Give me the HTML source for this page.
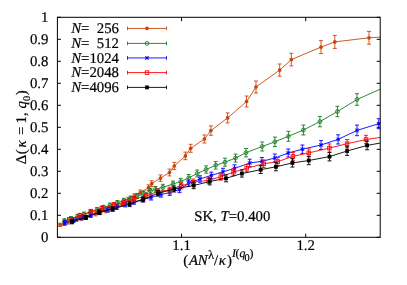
<!DOCTYPE html><html><head><meta charset="utf-8"><style>
html,body{margin:0;padding:0;background:#fff}
body{width:407px;height:285px;position:relative;overflow:hidden;font-family:"Liberation Serif",serif;font-size:14.8px;color:#000}
.t{position:absolute;white-space:pre;line-height:1;text-rendering:geometricPrecision;-webkit-text-stroke:0.2px #000}
.yt{right:358.6px;text-align:right}
i{font-style:italic}

</style></head><body>
<svg width="407" height="285" viewBox="0 0 407 285" style="position:absolute;left:0;top:0">
<defs><clipPath id="cp"><rect x="56.9" y="16.8" width="323.8" height="221"/></clipPath></defs>
<path d="M57.4 237.30h3.5M380.2 237.30h-3.5M57.4 215.30h3.5M380.2 215.30h-3.5M57.4 193.30h3.5M380.2 193.30h-3.5M57.4 171.30h3.5M380.2 171.30h-3.5M57.4 149.30h3.5M380.2 149.30h-3.5M57.4 127.30h3.5M380.2 127.30h-3.5M57.4 105.30h3.5M380.2 105.30h-3.5M57.4 83.30h3.5M380.2 83.30h-3.5M57.4 61.30h3.5M380.2 61.30h-3.5M57.4 39.30h3.5M380.2 39.30h-3.5M57.4 17.30h3.5M380.2 17.30h-3.5M181.55 237.3v-3.6M181.55 17.3v3.9M305.71 237.3v-3.6M305.71 17.3v3.9" stroke="#000" stroke-width="1" fill="none"/>
<g clip-path="url(#cp)">
<path d="M60.10 223.20L60.10 226.40M58.10 223.20L62.10 223.20M58.10 226.40L62.10 226.40M64.00 221.94L64.00 225.24M62.00 221.94L66.00 221.94M62.00 225.24L66.00 225.24M68.00 220.65L68.00 224.05M66.00 220.65L70.00 220.65M66.00 224.05L70.00 224.05M72.20 219.30L72.20 222.80M70.20 219.30L74.20 219.30M70.20 222.80L74.20 222.80M76.50 217.92L76.50 221.52M74.50 217.92L78.50 217.92M74.50 221.52L78.50 221.52M81.00 216.47L81.00 220.17M79.00 216.47L83.00 216.47M79.00 220.17L83.00 220.17M85.60 215.00L85.60 218.80M83.60 215.00L87.60 215.00M83.60 218.80L87.60 218.80M90.40 213.46L90.40 217.36M88.40 213.46L92.40 213.46M88.40 217.36L92.40 217.36M95.40 211.86L95.40 215.86M93.40 211.86L97.40 211.86M93.40 215.86L97.40 215.86M100.50 210.23L100.50 214.33M98.50 210.23L102.50 210.23M98.50 214.33L102.50 214.33M105.80 208.53L105.80 212.73M103.80 208.53L107.80 208.53M103.80 212.73L107.80 212.73M111.20 206.81L111.20 211.11M109.20 206.81L113.20 206.81M109.20 211.11L113.20 211.11M116.80 204.30L116.80 208.70M114.80 204.30L118.80 204.30M114.80 208.70L118.80 208.70M122.50 201.25L122.50 205.75M120.50 201.25L124.50 201.25M120.50 205.75L124.50 205.75M128.30 197.40L128.30 202.00M126.30 197.40L130.30 197.40M126.30 202.00L130.30 202.00M134.30 193.85L134.30 198.55M132.30 193.85L136.30 193.85M132.30 198.55L136.30 198.55M140.30 190.00L140.30 195.00M138.30 190.00L142.30 190.00M138.30 195.00L142.30 195.00M148.50 184.90L148.50 190.50M146.50 184.90L150.50 184.90M146.50 190.50L150.50 190.50M151.70 180.70L151.70 186.70M149.70 180.70L153.70 180.70M149.70 186.70L153.70 186.70M160.50 174.90L160.50 181.30M158.50 174.90L162.50 174.90M158.50 181.30L162.50 181.30M169.50 169.10L169.50 175.90M167.50 169.10L171.50 169.10M167.50 175.90L171.50 175.90M174.30 162.40L174.30 169.60M172.30 162.40L176.30 162.40M172.30 169.60L176.30 169.60M185.40 152.10L185.40 159.70M183.40 152.10L187.40 152.10M183.40 159.70L187.40 159.70M190.70 144.30L190.70 152.30M188.70 144.30L192.70 144.30M188.70 152.30L192.70 152.30M204.40 135.00L204.40 143.00M202.40 135.00L206.40 135.00M202.40 143.00L206.40 143.00M210.90 125.90L210.90 135.30M208.90 125.90L212.90 125.90M208.90 135.30L212.90 135.30M227.60 112.90L227.60 122.90M225.60 112.90L229.60 112.90M225.60 122.90L229.60 122.90M246.60 96.00L246.60 107.00M244.60 96.00L248.60 96.00M244.60 107.00L248.60 107.00M256.00 81.00L256.00 93.00M254.00 81.00L258.00 81.00M254.00 93.00L258.00 93.00M279.70 64.00L279.70 76.20M277.70 64.00L281.70 64.00M277.70 76.20L281.70 76.20M291.30 53.30L291.30 65.90M289.30 53.30L293.30 53.30M289.30 65.90L293.30 65.90M321.00 40.60L321.00 53.60M319.00 40.60L323.00 40.60M319.00 53.60L323.00 53.60M334.80 35.40L334.80 48.40M332.80 35.40L336.80 35.40M332.80 48.40L336.80 48.40M369.00 31.40L369.00 44.20M367.00 31.40L371.00 31.40M367.00 44.20L371.00 44.20" stroke="#c8460c" stroke-width="0.9" fill="none"/>
<circle cx="60.10" cy="224.80" r="1.85" fill="#c8460c"/>
<circle cx="64.00" cy="223.59" r="1.85" fill="#c8460c"/>
<circle cx="68.00" cy="222.35" r="1.85" fill="#c8460c"/>
<circle cx="72.20" cy="221.05" r="1.85" fill="#c8460c"/>
<circle cx="76.50" cy="219.72" r="1.85" fill="#c8460c"/>
<circle cx="81.00" cy="218.32" r="1.85" fill="#c8460c"/>
<circle cx="85.60" cy="216.90" r="1.85" fill="#c8460c"/>
<circle cx="90.40" cy="215.41" r="1.85" fill="#c8460c"/>
<circle cx="95.40" cy="213.86" r="1.85" fill="#c8460c"/>
<circle cx="100.50" cy="212.28" r="1.85" fill="#c8460c"/>
<circle cx="105.80" cy="210.63" r="1.85" fill="#c8460c"/>
<circle cx="111.20" cy="208.96" r="1.85" fill="#c8460c"/>
<circle cx="116.80" cy="206.50" r="1.85" fill="#c8460c"/>
<circle cx="122.50" cy="203.50" r="1.85" fill="#c8460c"/>
<circle cx="128.30" cy="199.70" r="1.85" fill="#c8460c"/>
<circle cx="134.30" cy="196.20" r="1.85" fill="#c8460c"/>
<circle cx="140.30" cy="192.50" r="1.85" fill="#c8460c"/>
<circle cx="148.50" cy="187.70" r="1.85" fill="#c8460c"/>
<circle cx="151.70" cy="183.70" r="1.85" fill="#c8460c"/>
<circle cx="160.50" cy="178.10" r="1.85" fill="#c8460c"/>
<circle cx="169.50" cy="172.50" r="1.85" fill="#c8460c"/>
<circle cx="174.30" cy="166.00" r="1.85" fill="#c8460c"/>
<circle cx="185.40" cy="155.90" r="1.85" fill="#c8460c"/>
<circle cx="190.70" cy="148.30" r="1.85" fill="#c8460c"/>
<circle cx="204.40" cy="139.00" r="1.85" fill="#c8460c"/>
<circle cx="210.90" cy="130.60" r="1.85" fill="#c8460c"/>
<circle cx="227.60" cy="117.90" r="1.85" fill="#c8460c"/>
<circle cx="246.60" cy="101.50" r="1.85" fill="#c8460c"/>
<circle cx="256.00" cy="87.00" r="1.85" fill="#c8460c"/>
<circle cx="279.70" cy="70.10" r="1.85" fill="#c8460c"/>
<circle cx="291.30" cy="59.60" r="1.85" fill="#c8460c"/>
<circle cx="321.00" cy="47.10" r="1.85" fill="#c8460c"/>
<circle cx="334.80" cy="41.90" r="1.85" fill="#c8460c"/>
<circle cx="369.00" cy="37.80" r="1.85" fill="#c8460c"/>
<path d="M60.10 224.80L64.00 223.59L68.00 222.35L72.20 221.05L76.50 219.72L81.00 218.32L85.60 216.90L90.40 215.41L95.40 213.86L100.50 212.28L105.80 210.63L111.20 208.96L116.80 206.50L122.50 203.50L128.30 199.70L134.30 196.20L140.30 192.50L148.50 187.70L151.70 183.70L160.50 178.10L169.50 172.50L174.30 166.00L185.40 155.90L190.70 148.30L204.40 139.00L210.90 130.60L227.60 117.90L246.60 101.50L256.00 87.00L279.70 70.10L291.30 59.60L321.00 47.10L334.80 41.90L369.00 37.80L380.50 37.10" stroke="#c8460c" stroke-width="0.9" fill="none"/>
<path d="M64.50 218.80L64.50 223.20M62.50 218.80L66.50 218.80M62.50 223.20L66.50 223.20M71.00 216.56L71.00 220.96M69.00 216.56L73.00 216.56M69.00 220.96L73.00 220.96M77.50 214.31L77.50 218.71M75.50 214.31L79.50 214.31M75.50 218.71L79.50 218.71M84.00 212.07L84.00 216.47M82.00 212.07L86.00 212.07M82.00 216.47L86.00 216.47M90.50 209.83L90.50 214.23M88.50 209.83L92.50 209.83M88.50 214.23L92.50 214.23M97.00 207.59L97.00 211.99M95.00 207.59L99.00 207.59M95.00 211.99L99.00 211.99M103.50 205.35L103.50 209.75M101.50 205.35L105.50 205.35M101.50 209.75L105.50 209.75M110.00 203.10L110.00 207.50M108.00 203.10L112.00 203.10M108.00 207.50L112.00 207.50M117.40 200.55L117.40 204.95M115.40 200.55L119.40 200.55M115.40 204.95L119.40 204.95M123.80 198.34L123.80 202.74M121.80 198.34L125.80 198.34M121.80 202.74L125.80 202.74M130.60 196.00L130.60 200.40M128.60 196.00L132.60 196.00M128.60 200.40L132.60 200.40M137.00 193.50L137.00 198.50M135.00 193.50L139.00 193.50M135.00 198.50L139.00 198.50M143.70 191.00L143.70 196.00M141.70 191.00L145.70 191.00M141.70 196.00L145.70 196.00M150.40 188.40L150.40 193.60M148.40 188.40L152.40 188.40M148.40 193.60L152.40 193.60M155.50 186.50L155.50 192.10M153.50 186.50L157.50 186.50M153.50 192.10L157.50 192.10M162.90 184.30L162.90 190.30M160.90 184.30L164.90 184.30M160.90 190.30L164.90 190.30M173.00 181.00L173.00 187.00M171.00 181.00L175.00 181.00M171.00 187.00L175.00 187.00M180.70 178.40L180.70 184.80M178.70 178.40L182.70 178.40M178.70 184.80L182.70 184.80M188.70 174.50L188.70 181.30M186.70 174.50L190.70 174.50M186.70 181.30L190.70 181.30M197.20 170.00L197.20 177.00M195.20 170.00L199.20 170.00M195.20 177.00L199.20 177.00M206.10 165.90L206.10 173.10M204.10 165.90L208.10 165.90M204.10 173.10L208.10 173.10M215.70 161.50L215.70 169.10M213.70 161.50L217.70 161.50M213.70 169.10L217.70 169.10M225.00 158.20L225.00 166.20M223.00 158.20L227.00 158.20M223.00 166.20L227.00 166.20M235.50 154.10L235.50 162.10M233.50 154.10L237.50 154.10M233.50 162.10L237.50 162.10M246.00 148.50L246.00 156.90M244.00 148.50L248.00 148.50M244.00 156.90L248.00 156.90M262.20 142.00L262.20 151.00M260.20 142.00L264.20 142.00M260.20 151.00L264.20 151.00M274.90 137.10L274.90 146.50M272.90 137.10L276.90 137.10M272.90 146.50L276.90 146.50M288.40 131.30L288.40 141.30M286.40 131.30L290.40 131.30M286.40 141.30L290.40 141.30M303.40 125.00L303.40 135.00M301.40 125.00L305.40 125.00M301.40 135.00L305.40 135.00M319.90 116.40L319.90 126.80M317.90 116.40L321.90 116.40M317.90 126.80L321.90 126.80M337.40 106.30L337.40 116.70M335.40 106.30L339.40 106.30M335.40 116.70L339.40 116.70M357.00 93.70L357.00 105.30M355.00 93.70L359.00 93.70M355.00 105.30L359.00 105.30" stroke="#187a26" stroke-width="0.9" fill="none"/>
<circle cx="64.50" cy="221.00" r="1.9" fill="none" stroke="#187a26" stroke-width="0.9"/>
<circle cx="71.00" cy="218.76" r="1.9" fill="none" stroke="#187a26" stroke-width="0.9"/>
<circle cx="77.50" cy="216.51" r="1.9" fill="none" stroke="#187a26" stroke-width="0.9"/>
<circle cx="84.00" cy="214.27" r="1.9" fill="none" stroke="#187a26" stroke-width="0.9"/>
<circle cx="90.50" cy="212.03" r="1.9" fill="none" stroke="#187a26" stroke-width="0.9"/>
<circle cx="97.00" cy="209.79" r="1.9" fill="none" stroke="#187a26" stroke-width="0.9"/>
<circle cx="103.50" cy="207.55" r="1.9" fill="none" stroke="#187a26" stroke-width="0.9"/>
<circle cx="110.00" cy="205.30" r="1.9" fill="none" stroke="#187a26" stroke-width="0.9"/>
<circle cx="117.40" cy="202.75" r="1.9" fill="none" stroke="#187a26" stroke-width="0.9"/>
<circle cx="123.80" cy="200.54" r="1.9" fill="none" stroke="#187a26" stroke-width="0.9"/>
<circle cx="130.60" cy="198.20" r="1.9" fill="none" stroke="#187a26" stroke-width="0.9"/>
<circle cx="137.00" cy="196.00" r="1.9" fill="none" stroke="#187a26" stroke-width="0.9"/>
<circle cx="143.70" cy="193.50" r="1.9" fill="none" stroke="#187a26" stroke-width="0.9"/>
<circle cx="150.40" cy="191.00" r="1.9" fill="none" stroke="#187a26" stroke-width="0.9"/>
<circle cx="155.50" cy="189.30" r="1.9" fill="none" stroke="#187a26" stroke-width="0.9"/>
<circle cx="162.90" cy="187.30" r="1.9" fill="none" stroke="#187a26" stroke-width="0.9"/>
<circle cx="173.00" cy="184.00" r="1.9" fill="none" stroke="#187a26" stroke-width="0.9"/>
<circle cx="180.70" cy="181.60" r="1.9" fill="none" stroke="#187a26" stroke-width="0.9"/>
<circle cx="188.70" cy="177.90" r="1.9" fill="none" stroke="#187a26" stroke-width="0.9"/>
<circle cx="197.20" cy="173.50" r="1.9" fill="none" stroke="#187a26" stroke-width="0.9"/>
<circle cx="206.10" cy="169.50" r="1.9" fill="none" stroke="#187a26" stroke-width="0.9"/>
<circle cx="215.70" cy="165.30" r="1.9" fill="none" stroke="#187a26" stroke-width="0.9"/>
<circle cx="225.00" cy="162.20" r="1.9" fill="none" stroke="#187a26" stroke-width="0.9"/>
<circle cx="235.50" cy="158.10" r="1.9" fill="none" stroke="#187a26" stroke-width="0.9"/>
<circle cx="246.00" cy="152.70" r="1.9" fill="none" stroke="#187a26" stroke-width="0.9"/>
<circle cx="262.20" cy="146.50" r="1.9" fill="none" stroke="#187a26" stroke-width="0.9"/>
<circle cx="274.90" cy="141.80" r="1.9" fill="none" stroke="#187a26" stroke-width="0.9"/>
<circle cx="288.40" cy="136.30" r="1.9" fill="none" stroke="#187a26" stroke-width="0.9"/>
<circle cx="303.40" cy="130.00" r="1.9" fill="none" stroke="#187a26" stroke-width="0.9"/>
<circle cx="319.90" cy="121.60" r="1.9" fill="none" stroke="#187a26" stroke-width="0.9"/>
<circle cx="337.40" cy="111.50" r="1.9" fill="none" stroke="#187a26" stroke-width="0.9"/>
<circle cx="357.00" cy="99.50" r="1.9" fill="none" stroke="#187a26" stroke-width="0.9"/>
<path d="M64.50 221.00L71.00 218.76L77.50 216.51L84.00 214.27L90.50 212.03L97.00 209.79L103.50 207.55L110.00 205.30L117.40 202.75L123.80 200.54L130.60 198.20L137.00 196.00L143.70 193.50L150.40 191.00L155.50 189.30L162.90 187.30L173.00 184.00L180.70 181.60L188.70 177.90L197.20 173.50L206.10 169.50L215.70 165.30L225.00 162.20L235.50 158.10L246.00 152.70L262.20 146.50L274.90 141.80L288.40 136.30L303.40 130.00L319.90 121.60L337.40 111.50L357.00 99.50L380.50 89.00" stroke="#187a26" stroke-width="0.9" fill="none"/>
<path d="M64.80 220.60L64.80 225.00M62.80 220.60L66.80 220.60M62.80 225.00L66.80 225.00M73.40 218.02L73.40 222.42M71.40 218.02L75.40 218.02M71.40 222.42L75.40 222.42M82.00 215.44L82.00 219.84M80.00 215.44L84.00 215.44M80.00 219.84L84.00 219.84M90.70 212.83L90.70 217.23M88.70 212.83L92.70 212.83M88.70 217.23L92.70 217.23M99.30 210.25L99.30 214.65M97.30 210.25L101.30 210.25M97.30 214.65L101.30 214.65M107.90 207.67L107.90 212.07M105.90 207.67L109.90 207.67M105.90 212.07L109.90 212.07M116.50 205.09L116.50 209.49M114.50 205.09L118.50 205.09M114.50 209.49L118.50 209.49M125.10 202.51L125.10 206.91M123.10 202.51L127.10 202.51M123.10 206.91L127.10 206.91M133.80 199.90L133.80 204.30M131.80 199.90L135.80 199.90M131.80 204.30L135.80 204.30M142.40 197.32L142.40 201.72M140.40 197.32L144.40 197.32M140.40 201.72L144.40 201.72M151.00 195.00L151.00 200.00M149.00 195.00L153.00 195.00M149.00 200.00L153.00 200.00M161.00 191.90L161.00 197.10M159.00 191.90L163.00 191.90M159.00 197.10L163.00 197.10M169.70 189.80L169.70 195.40M167.70 189.80L171.70 189.80M167.70 195.40L171.70 195.40M179.50 186.60L179.50 192.60M177.50 186.60L181.50 186.60M177.50 192.60L181.50 192.60M188.50 180.20L188.50 186.20M186.50 180.20L190.50 180.20M186.50 186.20L190.50 186.20M200.00 175.80L200.00 182.20M198.00 175.80L202.00 175.80M198.00 182.20L202.00 182.20M211.30 172.10L211.30 178.70M209.30 172.10L213.30 172.10M209.30 178.70L213.30 178.70M223.00 168.30L223.00 175.30M221.00 168.30L225.00 168.30M221.00 175.30L225.00 175.30M234.50 164.80L234.50 172.00M232.50 164.80L236.50 164.80M232.50 172.00L236.50 172.00M249.70 159.20L249.70 166.80M247.70 159.20L251.70 159.20M247.70 166.80L251.70 166.80M261.90 157.50L261.90 165.10M259.90 157.50L263.90 157.50M259.90 165.10L263.90 165.10M274.80 154.00L274.80 162.00M272.80 154.00L276.80 154.00M272.80 162.00L276.80 162.00M288.20 149.00L288.20 157.00M286.20 149.00L290.20 149.00M286.20 157.00L290.20 157.00M302.40 145.00L302.40 153.40M300.40 145.00L304.40 145.00M300.40 153.40L304.40 153.40M321.00 140.60L321.00 149.40M319.00 140.60L323.00 140.60M319.00 149.40L323.00 149.40M338.10 134.80L338.10 144.00M336.10 134.80L340.10 134.80M336.10 144.00L340.10 144.00M357.00 125.10L357.00 135.70M355.00 125.10L359.00 125.10M355.00 135.70L359.00 135.70M378.70 118.70L378.70 128.70M376.70 118.70L380.70 118.70M376.70 128.70L380.70 128.70" stroke="#0000ff" stroke-width="0.9" fill="none"/>
<path d="M63.00 221.00L66.60 224.60M63.00 224.60L66.60 221.00M63.00 222.80L66.60 222.80M64.80 221.00L64.80 224.60" stroke="#0000ff" stroke-width="0.9" fill="none"/>
<path d="M71.60 218.42L75.20 222.02M71.60 222.02L75.20 218.42M71.60 220.22L75.20 220.22M73.40 218.42L73.40 222.02" stroke="#0000ff" stroke-width="0.9" fill="none"/>
<path d="M80.20 215.84L83.80 219.44M80.20 219.44L83.80 215.84M80.20 217.64L83.80 217.64M82.00 215.84L82.00 219.44" stroke="#0000ff" stroke-width="0.9" fill="none"/>
<path d="M88.90 213.23L92.50 216.83M88.90 216.83L92.50 213.23M88.90 215.03L92.50 215.03M90.70 213.23L90.70 216.83" stroke="#0000ff" stroke-width="0.9" fill="none"/>
<path d="M97.50 210.65L101.10 214.25M97.50 214.25L101.10 210.65M97.50 212.45L101.10 212.45M99.30 210.65L99.30 214.25" stroke="#0000ff" stroke-width="0.9" fill="none"/>
<path d="M106.10 208.07L109.70 211.67M106.10 211.67L109.70 208.07M106.10 209.87L109.70 209.87M107.90 208.07L107.90 211.67" stroke="#0000ff" stroke-width="0.9" fill="none"/>
<path d="M114.70 205.49L118.30 209.09M114.70 209.09L118.30 205.49M114.70 207.29L118.30 207.29M116.50 205.49L116.50 209.09" stroke="#0000ff" stroke-width="0.9" fill="none"/>
<path d="M123.30 202.91L126.90 206.51M123.30 206.51L126.90 202.91M123.30 204.71L126.90 204.71M125.10 202.91L125.10 206.51" stroke="#0000ff" stroke-width="0.9" fill="none"/>
<path d="M132.00 200.30L135.60 203.90M132.00 203.90L135.60 200.30M132.00 202.10L135.60 202.10M133.80 200.30L133.80 203.90" stroke="#0000ff" stroke-width="0.9" fill="none"/>
<path d="M140.60 197.72L144.20 201.32M140.60 201.32L144.20 197.72M140.60 199.52L144.20 199.52M142.40 197.72L142.40 201.32" stroke="#0000ff" stroke-width="0.9" fill="none"/>
<path d="M149.20 195.70L152.80 199.30M149.20 199.30L152.80 195.70M149.20 197.50L152.80 197.50M151.00 195.70L151.00 199.30" stroke="#0000ff" stroke-width="0.9" fill="none"/>
<path d="M159.20 192.70L162.80 196.30M159.20 196.30L162.80 192.70M159.20 194.50L162.80 194.50M161.00 192.70L161.00 196.30" stroke="#0000ff" stroke-width="0.9" fill="none"/>
<path d="M167.90 190.80L171.50 194.40M167.90 194.40L171.50 190.80M167.90 192.60L171.50 192.60M169.70 190.80L169.70 194.40" stroke="#0000ff" stroke-width="0.9" fill="none"/>
<path d="M177.70 187.80L181.30 191.40M177.70 191.40L181.30 187.80M177.70 189.60L181.30 189.60M179.50 187.80L179.50 191.40" stroke="#0000ff" stroke-width="0.9" fill="none"/>
<path d="M186.70 181.40L190.30 185.00M186.70 185.00L190.30 181.40M186.70 183.20L190.30 183.20M188.50 181.40L188.50 185.00" stroke="#0000ff" stroke-width="0.9" fill="none"/>
<path d="M198.20 177.20L201.80 180.80M198.20 180.80L201.80 177.20M198.20 179.00L201.80 179.00M200.00 177.20L200.00 180.80" stroke="#0000ff" stroke-width="0.9" fill="none"/>
<path d="M209.50 173.60L213.10 177.20M209.50 177.20L213.10 173.60M209.50 175.40L213.10 175.40M211.30 173.60L211.30 177.20" stroke="#0000ff" stroke-width="0.9" fill="none"/>
<path d="M221.20 170.00L224.80 173.60M221.20 173.60L224.80 170.00M221.20 171.80L224.80 171.80M223.00 170.00L223.00 173.60" stroke="#0000ff" stroke-width="0.9" fill="none"/>
<path d="M232.70 166.60L236.30 170.20M232.70 170.20L236.30 166.60M232.70 168.40L236.30 168.40M234.50 166.60L234.50 170.20" stroke="#0000ff" stroke-width="0.9" fill="none"/>
<path d="M247.90 161.20L251.50 164.80M247.90 164.80L251.50 161.20M247.90 163.00L251.50 163.00M249.70 161.20L249.70 164.80" stroke="#0000ff" stroke-width="0.9" fill="none"/>
<path d="M260.10 159.50L263.70 163.10M260.10 163.10L263.70 159.50M260.10 161.30L263.70 161.30M261.90 159.50L261.90 163.10" stroke="#0000ff" stroke-width="0.9" fill="none"/>
<path d="M273.00 156.20L276.60 159.80M273.00 159.80L276.60 156.20M273.00 158.00L276.60 158.00M274.80 156.20L274.80 159.80" stroke="#0000ff" stroke-width="0.9" fill="none"/>
<path d="M286.40 151.20L290.00 154.80M286.40 154.80L290.00 151.20M286.40 153.00L290.00 153.00M288.20 151.20L288.20 154.80" stroke="#0000ff" stroke-width="0.9" fill="none"/>
<path d="M300.60 147.40L304.20 151.00M300.60 151.00L304.20 147.40M300.60 149.20L304.20 149.20M302.40 147.40L302.40 151.00" stroke="#0000ff" stroke-width="0.9" fill="none"/>
<path d="M319.20 143.20L322.80 146.80M319.20 146.80L322.80 143.20M319.20 145.00L322.80 145.00M321.00 143.20L321.00 146.80" stroke="#0000ff" stroke-width="0.9" fill="none"/>
<path d="M336.30 137.60L339.90 141.20M336.30 141.20L339.90 137.60M336.30 139.40L339.90 139.40M338.10 137.60L338.10 141.20" stroke="#0000ff" stroke-width="0.9" fill="none"/>
<path d="M355.20 128.60L358.80 132.20M355.20 132.20L358.80 128.60M355.20 130.40L358.80 130.40M357.00 128.60L357.00 132.20" stroke="#0000ff" stroke-width="0.9" fill="none"/>
<path d="M376.90 121.90L380.50 125.50M376.90 125.50L380.50 121.90M376.90 123.70L380.50 123.70M378.70 121.90L378.70 125.50" stroke="#0000ff" stroke-width="0.9" fill="none"/>
<path d="M64.80 222.80L73.40 220.22L82.00 217.64L90.70 215.03L99.30 212.45L107.90 209.87L116.50 207.29L125.10 204.71L133.80 202.10L142.40 199.52L151.00 197.50L161.00 194.50L169.70 192.60L179.50 189.60L188.50 183.20L200.00 179.00L211.30 175.40L223.00 171.80L234.50 168.40L249.70 163.00L261.90 161.30L274.80 158.00L288.20 153.00L302.40 149.20L321.00 145.00L338.10 139.40L357.00 130.40L378.70 123.70L380.50 123.00" stroke="#0000ff" stroke-width="0.9" fill="none"/>
<path d="M69.30 217.50L69.30 221.50M67.30 217.50L71.30 217.50M67.30 221.50L71.30 221.50M80.00 213.40L80.00 217.40M78.00 213.40L82.00 213.40M78.00 217.40L82.00 217.40M91.00 209.40L91.00 213.80M89.00 209.40L93.00 209.40M89.00 213.80L93.00 213.80M101.80 206.10L101.80 210.50M99.80 206.10L103.80 206.10M99.80 210.50L103.80 210.50M114.00 202.40L114.00 207.20M112.00 202.40L116.00 202.40M112.00 207.20L116.00 207.20M124.00 200.00L124.00 204.80M122.00 200.00L126.00 200.00M122.00 204.80L126.00 204.80M134.20 196.60L134.20 201.80M132.20 196.60L136.20 196.60M132.20 201.80L136.20 201.80M146.10 193.40L146.10 198.60M144.10 193.40L148.10 193.40M144.10 198.60L148.10 198.60M158.00 188.80L158.00 194.40M156.00 188.80L160.00 188.80M156.00 194.40L160.00 194.40M169.70 187.20L169.70 193.20M167.70 187.20L171.70 187.20M167.70 193.20L171.70 193.20M181.30 182.90L181.30 188.90M179.30 182.90L183.30 182.90M179.30 188.90L183.30 188.90M193.20 179.00L193.20 185.40M191.20 179.00L195.20 179.00M191.20 185.40L195.20 185.40M208.60 177.10L208.60 183.70M206.60 177.10L210.60 177.10M206.60 183.70L210.60 183.70M220.80 173.30L220.80 180.10M218.80 173.30L222.80 173.30M218.80 180.10L222.80 180.10M233.50 168.70L233.50 175.70M231.50 168.70L235.50 168.70M231.50 175.70L235.50 175.70M246.70 164.60L246.70 171.80M244.70 164.60L248.70 164.60M244.70 171.80L248.70 171.80M263.70 160.00L263.70 167.60M261.70 160.00L265.70 160.00M261.70 167.60L265.70 167.60M277.80 157.60L277.80 165.60M275.80 157.60L279.80 157.60M275.80 165.60L279.80 165.60M292.90 152.40L292.90 160.40M290.90 152.40L294.90 152.40M290.90 160.40L294.90 160.40M308.80 148.90L308.80 156.90M306.80 148.90L310.80 148.90M306.80 156.90L310.80 156.90M329.40 143.90L329.40 152.30M327.40 143.90L331.40 143.90M327.40 152.30L331.40 152.30M347.10 139.50L347.10 147.90M345.10 139.50L349.10 139.50M345.10 147.90L349.10 147.90M366.00 135.30L366.00 143.70M364.00 135.30L368.00 135.30M364.00 143.70L368.00 143.70" stroke="#ff0000" stroke-width="0.9" fill="none"/>
<rect x="67.55" y="217.75" width="3.50" height="3.50" fill="none" stroke="#ff0000" stroke-width="0.9"/>
<rect x="78.25" y="213.65" width="3.50" height="3.50" fill="none" stroke="#ff0000" stroke-width="0.9"/>
<rect x="89.25" y="209.85" width="3.50" height="3.50" fill="none" stroke="#ff0000" stroke-width="0.9"/>
<rect x="100.05" y="206.55" width="3.50" height="3.50" fill="none" stroke="#ff0000" stroke-width="0.9"/>
<rect x="112.25" y="203.05" width="3.50" height="3.50" fill="none" stroke="#ff0000" stroke-width="0.9"/>
<rect x="122.25" y="200.65" width="3.50" height="3.50" fill="none" stroke="#ff0000" stroke-width="0.9"/>
<rect x="132.45" y="197.45" width="3.50" height="3.50" fill="none" stroke="#ff0000" stroke-width="0.9"/>
<rect x="144.35" y="194.25" width="3.50" height="3.50" fill="none" stroke="#ff0000" stroke-width="0.9"/>
<rect x="156.25" y="189.85" width="3.50" height="3.50" fill="none" stroke="#ff0000" stroke-width="0.9"/>
<rect x="167.95" y="188.45" width="3.50" height="3.50" fill="none" stroke="#ff0000" stroke-width="0.9"/>
<rect x="179.55" y="184.15" width="3.50" height="3.50" fill="none" stroke="#ff0000" stroke-width="0.9"/>
<rect x="191.45" y="180.45" width="3.50" height="3.50" fill="none" stroke="#ff0000" stroke-width="0.9"/>
<rect x="206.85" y="178.65" width="3.50" height="3.50" fill="none" stroke="#ff0000" stroke-width="0.9"/>
<rect x="219.05" y="174.95" width="3.50" height="3.50" fill="none" stroke="#ff0000" stroke-width="0.9"/>
<rect x="231.75" y="170.45" width="3.50" height="3.50" fill="none" stroke="#ff0000" stroke-width="0.9"/>
<rect x="244.95" y="166.45" width="3.50" height="3.50" fill="none" stroke="#ff0000" stroke-width="0.9"/>
<rect x="261.95" y="162.05" width="3.50" height="3.50" fill="none" stroke="#ff0000" stroke-width="0.9"/>
<rect x="276.05" y="159.85" width="3.50" height="3.50" fill="none" stroke="#ff0000" stroke-width="0.9"/>
<rect x="291.15" y="154.65" width="3.50" height="3.50" fill="none" stroke="#ff0000" stroke-width="0.9"/>
<rect x="307.05" y="151.15" width="3.50" height="3.50" fill="none" stroke="#ff0000" stroke-width="0.9"/>
<rect x="327.65" y="146.35" width="3.50" height="3.50" fill="none" stroke="#ff0000" stroke-width="0.9"/>
<rect x="345.35" y="141.95" width="3.50" height="3.50" fill="none" stroke="#ff0000" stroke-width="0.9"/>
<rect x="364.25" y="137.75" width="3.50" height="3.50" fill="none" stroke="#ff0000" stroke-width="0.9"/>
<path d="M69.30 219.50L80.00 215.40L91.00 211.60L101.80 208.30L114.00 204.80L124.00 202.40L134.20 199.20L146.10 196.00L158.00 191.60L169.70 190.20L181.30 185.90L193.20 182.20L208.60 180.40L220.80 176.70L233.50 172.20L246.70 168.20L263.70 163.80L277.80 161.60L292.90 156.40L308.80 152.90L329.40 148.10L347.10 143.70L366.00 139.50L380.50 137.40" stroke="#ff0000" stroke-width="0.9" fill="none"/>
<path d="M72.00 219.80L72.00 223.80M70.00 219.80L74.00 219.80M70.00 223.80L74.00 223.80M86.00 215.50L86.00 219.50M84.00 215.50L88.00 215.50M84.00 219.50L88.00 219.50M99.20 210.00L99.20 214.40M97.20 210.00L101.20 210.00M97.20 214.40L101.20 214.40M112.80 206.70L112.80 211.30M110.80 206.70L114.80 206.70M110.80 211.30L114.80 211.30M129.60 201.60L129.60 206.60M127.60 201.60L131.60 201.60M127.60 206.60L131.60 206.60M143.30 196.80L143.30 202.00M141.30 196.80L145.30 196.80M141.30 202.00L145.30 202.00M158.00 190.50L158.00 196.10M156.00 190.50L160.00 190.50M156.00 196.10L160.00 196.10M174.20 186.00L174.20 192.00M172.20 186.00L176.20 186.00M172.20 192.00L176.20 192.00M193.70 182.30L193.70 188.70M191.70 182.30L195.70 182.30M191.70 188.70L195.70 188.70M209.80 178.10L209.80 184.90M207.80 178.10L211.80 178.10M207.80 184.90L211.80 184.90M226.00 174.80L226.00 181.80M224.00 174.80L228.00 174.80M224.00 181.80L228.00 181.80M241.90 169.90L241.90 177.10M239.90 169.90L243.90 169.90M239.90 177.10L243.90 177.10M260.70 165.90L260.70 173.50M258.70 165.90L262.70 165.90M258.70 173.50L262.70 173.50M275.90 162.80L275.90 170.80M273.90 162.80L277.90 162.80M273.90 170.80L277.90 170.80M292.40 158.70L292.40 167.10M290.40 158.70L294.40 158.70M290.40 167.10L294.40 167.10M308.80 156.30L308.80 164.70M306.80 156.30L310.80 156.30M306.80 164.70L310.80 164.70M329.50 152.30L329.50 160.90M327.50 152.30L331.50 152.30M327.50 160.90L331.50 160.90M347.10 146.60L347.10 155.40M345.10 146.60L349.10 146.60M345.10 155.40L349.10 155.40M367.10 141.00L367.10 149.80M365.10 141.00L369.10 141.00M365.10 149.80L369.10 149.80" stroke="#000000" stroke-width="0.9" fill="none"/>
<rect x="70.10" y="219.90" width="3.80" height="3.80" fill="#000000"/>
<rect x="84.10" y="215.60" width="3.80" height="3.80" fill="#000000"/>
<rect x="97.30" y="210.30" width="3.80" height="3.80" fill="#000000"/>
<rect x="110.90" y="207.10" width="3.80" height="3.80" fill="#000000"/>
<rect x="127.70" y="202.20" width="3.80" height="3.80" fill="#000000"/>
<rect x="141.40" y="197.50" width="3.80" height="3.80" fill="#000000"/>
<rect x="156.10" y="191.40" width="3.80" height="3.80" fill="#000000"/>
<rect x="172.30" y="187.10" width="3.80" height="3.80" fill="#000000"/>
<rect x="191.80" y="183.60" width="3.80" height="3.80" fill="#000000"/>
<rect x="207.90" y="179.60" width="3.80" height="3.80" fill="#000000"/>
<rect x="224.10" y="176.40" width="3.80" height="3.80" fill="#000000"/>
<rect x="240.00" y="171.60" width="3.80" height="3.80" fill="#000000"/>
<rect x="258.80" y="167.80" width="3.80" height="3.80" fill="#000000"/>
<rect x="274.00" y="164.90" width="3.80" height="3.80" fill="#000000"/>
<rect x="290.50" y="161.00" width="3.80" height="3.80" fill="#000000"/>
<rect x="306.90" y="158.60" width="3.80" height="3.80" fill="#000000"/>
<rect x="327.60" y="154.70" width="3.80" height="3.80" fill="#000000"/>
<rect x="345.20" y="149.10" width="3.80" height="3.80" fill="#000000"/>
<rect x="365.20" y="143.50" width="3.80" height="3.80" fill="#000000"/>
<path d="M72.00 221.80L86.00 217.50L99.20 212.20L112.80 209.00L129.60 204.10L143.30 199.40L158.00 193.30L174.20 189.00L193.70 185.50L209.80 181.50L226.00 178.30L241.90 173.50L260.70 169.70L275.90 166.80L292.40 162.90L308.80 160.50L329.50 156.60L347.10 151.00L367.10 145.40L380.50 143.00" stroke="#000000" stroke-width="0.9" fill="none"/>
</g>
<path d="M127.5 28.4H166.5M127.5 26.599999999999998v3.6M166.5 26.599999999999998v3.6" stroke="#c8460c" stroke-width="0.9" fill="none"/>
<circle cx="147.00" cy="28.40" r="1.85" fill="#c8460c"/>
<path d="M127.5 43.4H166.5M127.5 41.6v3.6M166.5 41.6v3.6" stroke="#187a26" stroke-width="0.9" fill="none"/>
<circle cx="147.00" cy="43.40" r="1.9" fill="none" stroke="#187a26" stroke-width="0.9"/>
<path d="M127.5 57.95H166.5M127.5 56.150000000000006v3.6M166.5 56.150000000000006v3.6" stroke="#0000ff" stroke-width="0.9" fill="none"/>
<path d="M145.20 56.15L148.80 59.75M145.20 59.75L148.80 56.15M145.20 57.95L148.80 57.95M147.00 56.15L147.00 59.75" stroke="#0000ff" stroke-width="0.9" fill="none"/>
<path d="M127.5 72.6H166.5M127.5 70.8v3.6M166.5 70.8v3.6" stroke="#ff0000" stroke-width="0.9" fill="none"/>
<rect x="145.25" y="70.85" width="3.50" height="3.50" fill="none" stroke="#ff0000" stroke-width="0.9"/>
<path d="M127.5 87.4H166.5M127.5 85.60000000000001v3.6M166.5 85.60000000000001v3.6" stroke="#000000" stroke-width="0.9" fill="none"/>
<rect x="145.10" y="85.50" width="3.80" height="3.80" fill="#000000"/>
<rect x="57.4" y="17.3" width="322.8" height="220.0" fill="none" stroke="#000" stroke-width="1"/>
</svg>
<div id="tx" style="position:absolute;left:0;top:0;width:407px;height:285px;will-change:transform;opacity:0.999">
<div class="t yt" style="top:231.1px">0</div>
<div class="t yt" style="top:209.1px">0.1</div>
<div class="t yt" style="top:187.1px">0.2</div>
<div class="t yt" style="top:165.1px">0.3</div>
<div class="t yt" style="top:143.1px">0.4</div>
<div class="t yt" style="top:121.1px">0.5</div>
<div class="t yt" style="top:99.1px">0.6</div>
<div class="t yt" style="top:77.1px">0.7</div>
<div class="t yt" style="top:55.1px">0.8</div>
<div class="t yt" style="top:33.1px">0.9</div>
<div class="t yt" style="top:11.1px">1</div>
<div class="t" style="left:161.6px;width:40px;text-align:center;top:238.5px">1.1</div>
<div class="t" style="left:285.7px;width:40px;text-align:center;top:238.5px">1.2</div>
<div class="t" style="left:71.2px;top:22.2px"><i>N</i>=  256</div>
<div class="t" style="left:71.2px;top:37.2px"><i>N</i>=  512</div>
<div class="t" style="left:71.2px;top:51.8px"><i>N</i>=1024</div>
<div class="t" style="left:71.2px;top:66.4px"><i>N</i>=2048</div>
<div class="t" style="left:71.2px;top:81.2px"><i>N</i>=4096</div>
<div class="t" style="left:194.2px;top:209.6px">SK, <i>T</i>=0.400</div>
<div class="t" style="left:183.20px;top:254.00px;font-size:14.8px;">(</div>
<div class="t" style="left:189.00px;top:254.00px;font-size:14.8px;font-style:italic;">A</div>
<div class="t" style="left:197.80px;top:254.00px;font-size:14.8px;font-style:italic;">N</div>
<div class="t" style="left:208.00px;top:248.55px;font-size:12.6px;">λ</div>
<div class="t" style="left:214.00px;top:254.00px;font-size:14.8px;">/</div>
<div class="t" style="left:218.80px;top:254.00px;font-size:14.8px;font-style:italic;">κ</div>
<div class="t" style="left:227.00px;top:254.00px;font-size:14.8px;">)</div>
<div class="t" style="left:231.90px;top:248.48px;font-size:11.840000000000002px;font-style:italic;">I</div>
<div class="t" style="left:235.60px;top:248.48px;font-size:11.840000000000002px;">(</div>
<div class="t" style="left:239.50px;top:248.48px;font-size:11.840000000000002px;font-style:italic;">q</div>
<div class="t" style="left:244.50px;top:253.86px;font-size:10.2px;">0</div>
<div class="t" style="left:249.50px;top:248.48px;font-size:11.840000000000002px;">)</div>
<div style="position:absolute;left:0;top:0;width:0;height:0;transform-origin:0 0;transform:translate(27.1px,164.2px) rotate(-90deg)">
<div class="t" style="left:0.00px;top:-12.40px;font-size:14.8px;">Δ</div>
<div class="t" style="left:10.00px;top:-12.40px;font-size:14.8px;">(</div>
<div class="t" style="left:16.70px;top:-12.40px;font-size:14.8px;font-style:italic;">κ</div>
<div class="t" style="left:29.30px;top:-12.40px;font-size:14.8px;">=</div>
<div class="t" style="left:40.80px;top:-12.40px;font-size:14.8px;">1</div>
<div class="t" style="left:48.20px;top:-12.40px;font-size:14.8px;">,</div>
<div class="t" style="left:55.80px;top:-12.40px;font-size:14.8px;font-style:italic;">q</div>
<div class="t" style="left:63.10px;top:-3.54px;font-size:10.2px;">0</div>
<div class="t" style="left:69.00px;top:-12.40px;font-size:14.8px;">)</div>
</div>
</div></body></html>
